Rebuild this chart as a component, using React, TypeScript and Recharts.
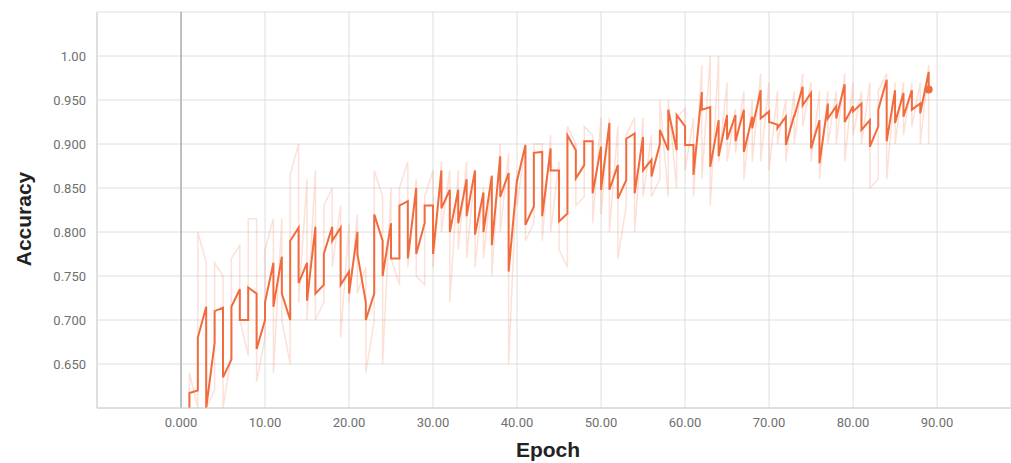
import React from "react";
import {
  LineChart,
  Line,
  XAxis,
  YAxis,
  CartesianGrid,
  ReferenceLine,
} from "recharts";

// smoothed run: value where each epoch's segment starts / ends
const darkFirst = [
  0.600, 0.620, 0.715, 0.674, 0.714, 0.655, 0.735, 0.700, 0.730, 0.700,
  0.765, 0.772, 0.700, 0.805, 0.765, 0.806, 0.740, 0.806, 0.805, 0.755,
  0.800, 0.720, 0.730, 0.790, 0.810, 0.770, 0.835, 0.850, 0.810, 0.830,
  0.870, 0.848, 0.848, 0.860, 0.870, 0.845, 0.864, 0.886, 0.867, 0.860,
  0.899, 0.829, 0.891, 0.895, 0.870, 0.821, 0.893, 0.876, 0.903, 0.897,
  0.924, 0.876, 0.859, 0.912, 0.908, 0.882, 0.900, 0.893, 0.893, 0.920,
  0.899, 0.959, 0.942, 0.927, 0.933, 0.933, 0.939, 0.931, 0.961, 0.937,
  0.922, 0.931, 0.933, 0.965, 0.958, 0.927, 0.946, 0.943, 0.968, 0.943,
  0.946, 0.927, 0.920, 0.973, 0.961, 0.958, 0.961, 0.946, 0.982,
];
const darkLast = [
  0.617, 0.680, 0.600, 0.710, 0.635, 0.715, 0.700, 0.737, 0.667, 0.720,
  0.715, 0.730, 0.790, 0.742, 0.722, 0.730, 0.775, 0.790, 0.740, 0.730,
  0.775, 0.700, 0.820, 0.750, 0.770, 0.830, 0.770, 0.775, 0.830, 0.775,
  0.827, 0.800, 0.810, 0.818, 0.797, 0.800, 0.785, 0.840, 0.755, 0.858,
  0.808, 0.890, 0.818, 0.870, 0.812, 0.910, 0.861, 0.903, 0.844, 0.848,
  0.848, 0.838, 0.906, 0.844, 0.870, 0.863, 0.916, 0.939, 0.933, 0.899,
  0.865, 0.939, 0.874, 0.886, 0.905, 0.903, 0.891, 0.918, 0.929, 0.925,
  0.918, 0.899, 0.931, 0.944, 0.895, 0.878, 0.929, 0.929, 0.925, 0.937,
  0.916, 0.897, 0.939, 0.903, 0.924, 0.931, 0.939, 0.935, 0.962,
];

// raw run: spread per epoch
const lightHigh = [
  0.640, 0.800, 0.765, 0.765, 0.750, 0.770, 0.785, 0.815, 0.815, 0.780,
  0.815, 0.815, 0.865, 0.900, 0.860, 0.870, 0.830, 0.850, 0.830, 0.810,
  0.820, 0.760, 0.870, 0.840, 0.850, 0.850, 0.880, 0.860, 0.840, 0.870,
  0.880, 0.870, 0.870, 0.880, 0.870, 0.850, 0.860, 0.900, 0.890, 0.870,
  0.900, 0.900, 0.900, 0.910, 0.880, 0.920, 0.900, 0.920, 0.910, 0.930,
  0.930, 0.920, 0.910, 0.930, 0.930, 0.910, 0.950, 0.950, 0.930, 0.940,
  0.930, 0.990, 1.000, 1.000, 0.970, 0.940, 0.960, 0.950, 0.980, 0.970,
  0.960, 0.950, 0.960, 0.980, 0.970, 0.960, 0.960, 0.960, 0.980, 0.970,
  0.960, 0.970, 0.960, 0.980, 0.970, 0.970, 0.970, 0.970, 0.990,
];
const lightLow = [
  0.600, 0.600, 0.600, 0.620, 0.600, 0.660, 0.700, 0.660, 0.630, 0.680,
  0.640, 0.700, 0.650, 0.720, 0.700, 0.700, 0.720, 0.760, 0.680, 0.720,
  0.730, 0.640, 0.700, 0.650, 0.770, 0.740, 0.760, 0.750, 0.740, 0.760,
  0.800, 0.720, 0.780, 0.770, 0.760, 0.770, 0.750, 0.800, 0.650, 0.830,
  0.790, 0.810, 0.790, 0.800, 0.780, 0.760, 0.830, 0.840, 0.810, 0.820,
  0.800, 0.770, 0.830, 0.800, 0.840, 0.840, 0.860, 0.840, 0.850, 0.870,
  0.840, 0.860, 0.830, 0.880, 0.880, 0.890, 0.860, 0.880, 0.880, 0.870,
  0.900, 0.880, 0.900, 0.920, 0.880, 0.860, 0.900, 0.900, 0.880, 0.910,
  0.900, 0.850, 0.860, 0.860, 0.900, 0.910, 0.920, 0.900, 0.900,
];

const xTicks = [0, 10, 20, 30, 40, 50, 60, 70, 80, 90];
const yTicks = [0.6, 0.65, 0.7, 0.75, 0.8, 0.85, 0.9, 0.95, 1.0, 1.05];

const darkData = darkFirst.flatMap((v, i) => [
  { x: i + 1, y: v },
  { x: i + 1, y: darkLast[i] },
]);
// raw strokes run the same way as the smoothed one in each epoch
const lightData = lightHigh.flatMap((hi, i) =>
  darkFirst[i] > darkLast[i]
    ? [{ x: i + 1, y: hi }, { x: i + 1, y: lightLow[i] }]
    : [{ x: i + 1, y: lightLow[i] }, { x: i + 1, y: hi }]
);

const ORANGE = "#f26b3c";
const tickStyle = { fill: "#6f6f6f", fontSize: 13, fontFamily: "Roboto" };

const fmtY = (v: number) => {
  if (v > 1.02 || v < 0.62) return "";
  return v >= 0.999 ? v.toFixed(2) : v.toFixed(3);
};
const fmtX = (v: number) => (v === 0 ? "0.000" : v.toFixed(2));

const lastIdx = darkData.length - 1;

export default function App() {
  return (
    <div style={{ position: "absolute", left: 0, top: 0, width: 1011, height: 463 }}>
      <LineChart
        width={1011}
        height={463}
        margin={{ top: 12, right: 0, bottom: 0, left: 0 }}
      >
        <CartesianGrid stroke="#dedede" />
        <XAxis
          type="number"
          dataKey="x"
          domain={[-10, 98.8]}
          ticks={xTicks}
          allowDataOverflow
          tickFormatter={fmtX}
          tick={tickStyle}
          tickLine={false}
          tickSize={0}
          tickMargin={10}
          axisLine={{ stroke: "#d0d0d0" }}
          height={55}
          label={() => (
            <text
              x={548}
              y={457}
              textAnchor="middle"
              fontSize={21}
              fontWeight="bold"
              fontFamily="Liberation Sans"
              fill="#222"
            >
              Epoch
            </text>
          )}
        />
        <YAxis
          type="number"
          domain={[0.6, 1.05]}
          ticks={yTicks}
          allowDataOverflow
          tickFormatter={fmtY}
          tick={tickStyle}
          tickLine={false}
          tickSize={0}
          tickMargin={11}
          axisLine={{ stroke: "#d0d0d0" }}
          width={97}
          label={() => (
            <text
              x={23}
              y={219}
              transform="rotate(-90 23 219)"
              textAnchor="middle"
              dominantBaseline="central"
              fontSize={21}
              fontWeight="bold"
              fontFamily="Liberation Sans"
              fill="#222"
            >
              Accuracy
            </text>
          )}
        />
        <ReferenceLine x={0} stroke="#a0a0a0" strokeWidth={1.2} />
        <Line
          data={lightData}
          dataKey="y"
          type="linear"
          stroke={ORANGE}
          strokeOpacity={0.2}
          strokeWidth={1.5}
          dot={false}
          isAnimationActive={false}
        />
        <Line
          data={darkData}
          dataKey="y"
          type="linear"
          stroke={ORANGE}
          strokeWidth={2}
          isAnimationActive={false}
          dot={(p: any) =>
            p.index === lastIdx ? (
              <circle key="end" cx={p.cx} cy={p.cy} r={4} fill={ORANGE} />
            ) : (
              <g key={p.index} />
            )
          }
        />
      </LineChart>
    </div>
  );
}
